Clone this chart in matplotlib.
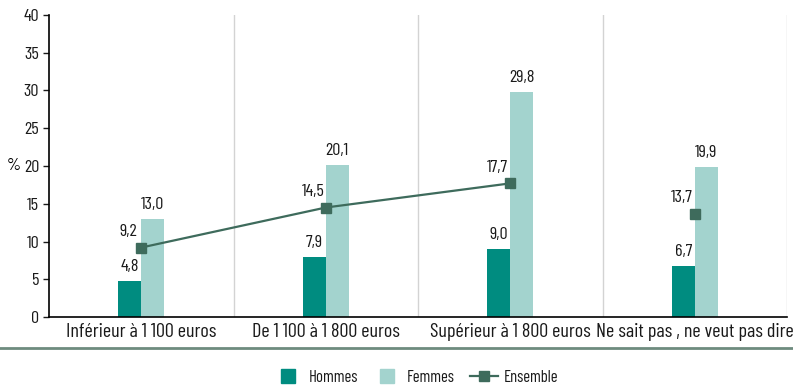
import numpy as np
import matplotlib.pyplot as plt
from matplotlib.lines import Line2D

categories = ['Inférieur à 1 100 euros', 'De 1 100 à 1 800 euros',
              'Supérieur à 1 800 euros', 'Ne sait pas , ne veut pas dire']
hommes = [4.8, 7.9, 9.0, 6.7]
femmes = [13.0, 20.1, 29.8, 19.9]
ensemble = [9.2, 14.5, 17.7, 13.7]

c_h = '#008C80'
c_f = '#A3D3CE'
c_e = '#3E6B5C'

plt.rcParams['font.family'] = ['Barlow Condensed', 'DejaVu Sans']
plt.rcParams['font.size'] = 13
plt.rcParams['text.color'] = '#1a1a1a'


def fmt(v):
    return f'{v:.1f}'.replace('.', ',')


fig = plt.figure(figsize=(7.93, 3.92), dpi=100)
ax = fig.add_axes([49/793, 1 - 317/392, 738/793, 302/392])

x = np.arange(len(categories))
w = 0.125
ax.bar(x - w/2, hommes, w, color=c_h, zorder=2)
ax.bar(x + w/2, femmes, w, color=c_f, zorder=2)
# Ensemble : ligne sur les trois premières catégories, point isolé ensuite
ax.plot(x[:3], ensemble[:3], color=c_e, lw=1.6, zorder=3)
ax.plot(x, ensemble, ls='none', marker='s', ms=7, color=c_e, zorder=4)

for i in x:
    ax.annotate(fmt(hommes[i]), (i - w/2, hommes[i]), xytext=(0, 5),
                textcoords='offset points', ha='center', va='bottom')
    ax.annotate(fmt(femmes[i]), (i + w/2, femmes[i]), xytext=(0, 5),
                textcoords='offset points', ha='center', va='bottom')
    ax.annotate(fmt(ensemble[i]), (i, ensemble[i]), xytext=(-9, 6),
                textcoords='offset points', ha='center', va='bottom')

ax.set_xlim(-0.5, 3.5)
ax.set_ylim(0, 40)
ax.set_yticks(range(0, 41, 5))
ax.set_xticks(x)
ax.set_xticklabels(categories, fontsize=14.5)
ax.tick_params(axis='x', length=0, pad=4, colors='#1a1a1a')
ax.tick_params(axis='y', length=4, width=1, pad=3, colors='#1a1a1a', labelsize=13)
for b in [0.5, 1.5, 2.5, 3.5]:
    ax.axvline(b, color='#D3D3D3', lw=1, zorder=1)
ax.spines['top'].set_visible(False)
ax.spines['right'].set_visible(False)
ax.spines['left'].set_linewidth(1.2)
ax.spines['bottom'].set_linewidth(1.2)
ax.set_ylabel('%', rotation=0, fontsize=13, va='center', ha='center')
ax.yaxis.set_label_coords(-0.048, 0.5)

fig.add_artist(Line2D([0, 1], [1 - 348/392, 1 - 348/392], color='#6E8B7E', lw=2))

handles = [Line2D([], [], ls='none', marker='s', ms=9.5, color=c_h, label='Hommes'),
           Line2D([], [], ls='none', marker='s', ms=9.5, color=c_f, label='Femmes'),
           Line2D([], [], color=c_e, marker='s', ms=7, lw=1.6, label='Ensemble')]
fig.legend(handles=handles, loc='center', bbox_to_anchor=(0.525, 1 - 377/392),
           ncol=3, frameon=False, handlelength=1.7, handletextpad=0.35,
           columnspacing=0.9, fontsize=12)

fig.savefig('out.png', dpi=100)
